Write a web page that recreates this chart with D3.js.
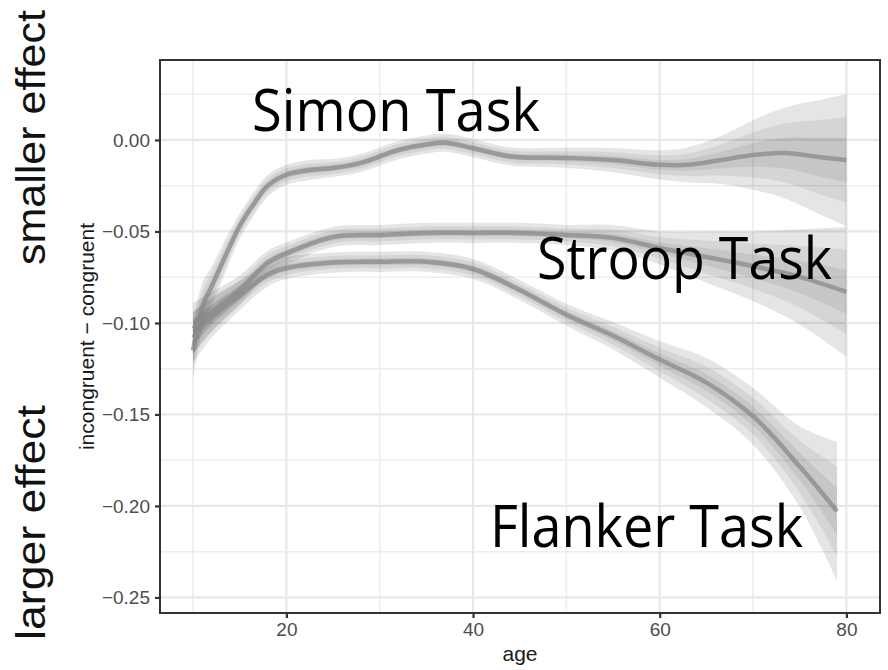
<!DOCTYPE html>
<html>
<head>
<meta charset="utf-8">
<script src="https://cdn.jsdelivr.net/npm/d3@7/dist/d3.min.js"></script>
<style>
  html, body { margin: 0; padding: 0; background: #fff; }
  svg { display: block; }
</style>
</head>
<body>
<svg id="chart" width="888" height="670"></svg>
<script>
// Smoothed task effects (incongruent − congruent) by age, with 95% half-widths
const simonAges = [10, 11, 12, 13.5, 15, 16.5, 18, 20, 22.5, 25, 28, 32, 35, 37, 40, 44, 50, 55, 60, 63, 66.5, 70, 73.5, 77, 80];
const simonMean = [-0.115, -0.091, -0.080, -0.063, -0.047, -0.035, -0.025, -0.019, -0.0164, -0.0153, -0.0125, -0.0055, -0.0025, -0.0015, -0.0045, -0.009, -0.0098, -0.011, -0.0136, -0.0136, -0.011, -0.0082, -0.0071, -0.0093, -0.011];
const simonCI   = [0.016, 0.013, 0.011, 0.009, 0.007, 0.0065, 0.006, 0.0055, 0.0055, 0.005, 0.005, 0.005, 0.005, 0.005, 0.005, 0.005, 0.0055, 0.0066, 0.008, 0.0095, 0.013, 0.019, 0.025, 0.031, 0.036];

const stroopAges = [10, 12, 15, 18, 20, 25, 30, 35, 40, 45, 50, 55, 60, 65, 70, 75, 80];
const stroopMean = [-0.103, -0.094, -0.082, -0.067, -0.062, -0.053, -0.0519, -0.0508, -0.0508, -0.0508, -0.0519, -0.0535, -0.059, -0.064, -0.069, -0.0748, -0.083];
const stroopCI   = [0.014, 0.011, 0.008, 0.0065, 0.006, 0.0055, 0.0055, 0.0055, 0.0055, 0.0055, 0.0055, 0.007, 0.009, 0.014, 0.019, 0.026, 0.0355];

const flankerAges = [10, 12, 15, 18, 20, 25, 30, 35, 40, 45, 50, 55, 60, 65, 70, 75, 79];
const flankerMean = [-0.108, -0.097, -0.085, -0.0737, -0.070, -0.067, -0.0666, -0.0666, -0.0705, -0.082, -0.0955, -0.107, -0.120, -0.1326, -0.151, -0.1785, -0.203];
const flankerCI   = [0.014, 0.011, 0.008, 0.0065, 0.006, 0.0055, 0.0055, 0.0055, 0.0055, 0.0055, 0.006, 0.0075, 0.010, 0.0135, 0.0155, 0.022, 0.038];

const xTicks = [20, 40, 60, 80];
const xMinor = [10, 30, 50, 70];
const yTicks = [0, -0.05, -0.10, -0.15, -0.20, -0.25];
const yMinor = [0.025, -0.025, -0.075, -0.125, -0.175, -0.225];

const taskLabels = ["Simon Task", "Stroop Task", "Flanker Task"];
const sideLabels = ["smaller effect", "larger effect"];

// Nested interval bands as fractions of the 95% half-width (50%, 80%, 95%)
const bandLevels = [1.0, 0.65, 0.34];
const bandAlpha = [0.10, 0.065, 0.065];

const svg = d3.select("#chart");
const panel = { left: 160, right: 880, top: 60, bottom: 613 };

const x = d3.scaleLinear().domain([6.46, 83.6]).range([panel.left, panel.right]);
const y = d3.scaleLinear().domain([-0.2585, 0.0437]).range([panel.bottom, panel.top]);

// Grid
const grid = svg.append("g");
grid.selectAll("line.vminor").data(xMinor).join("line")
  .attr("x1", d => x(d)).attr("x2", d => x(d))
  .attr("y1", panel.top).attr("y2", panel.bottom)
  .attr("stroke", "#ededed").attr("stroke-width", 1.6);
grid.selectAll("line.hminor").data(yMinor).join("line")
  .attr("y1", d => y(d)).attr("y2", d => y(d))
  .attr("x1", panel.left).attr("x2", panel.right)
  .attr("stroke", "#ededed").attr("stroke-width", 1.6);
grid.selectAll("line.vmajor").data(xTicks).join("line")
  .attr("x1", d => x(d)).attr("x2", d => x(d))
  .attr("y1", panel.top).attr("y2", panel.bottom)
  .attr("stroke", "#e8e8e8").attr("stroke-width", 2.2);
grid.selectAll("line.hmajor").data(yTicks).join("line")
  .attr("y1", d => y(d)).attr("y2", d => y(d))
  .attr("x1", panel.left).attr("x2", panel.right)
  .attr("stroke", "#e8e8e8").attr("stroke-width", 2.2);

// Series
const series = [
  { ages: simonAges, mean: simonMean, ci: simonCI },
  { ages: stroopAges, mean: stroopMean, ci: stroopCI },
  { ages: flankerAges, mean: flankerMean, ci: flankerCI }
];

const curve = d3.curveCatmullRom.alpha(0.5);
const plot = svg.append("g");

bandLevels.forEach((k, li) => {
  series.forEach(s => {
    const pts = s.ages.map((a, i) => ({ a, m: s.mean[i], c: s.ci[i] }));
    const area = d3.area()
      .x(d => x(d.a))
      .y0(d => y(d.m - k * d.c))
      .y1(d => y(d.m + k * d.c))
      .curve(curve);
    plot.append("path")
      .attr("d", area(pts))
      .attr("fill", "#000")
      .attr("fill-opacity", bandAlpha[li]);
  });
});

series.forEach(s => {
  const pts = s.ages.map((a, i) => ({ a, m: s.mean[i] }));
  const line = d3.line().x(d => x(d.a)).y(d => y(d.m)).curve(curve);
  plot.append("path")
    .attr("d", line(pts))
    .attr("fill", "none")
    .attr("stroke", "#8c8c8c")
    .attr("stroke-opacity", 0.78)
    .attr("stroke-width", 4.5)
    .attr("stroke-linecap", "butt");
});

// Panel border
svg.append("rect")
  .attr("x", panel.left).attr("y", panel.top)
  .attr("width", panel.right - panel.left).attr("height", panel.bottom - panel.top)
  .attr("fill", "none").attr("stroke", "#333").attr("stroke-width", 2);

// Axes
const xAxis = svg.append("g")
  .attr("transform", `translate(0,${panel.bottom})`)
  .call(d3.axisBottom(x).tickValues(xTicks).tickSize(5).tickPadding(5).tickFormat(d3.format("d")));
const yAxis = svg.append("g")
  .attr("transform", `translate(${panel.left},0)`)
  .call(d3.axisLeft(y).tickValues(yTicks).tickSize(5).tickPadding(5).tickFormat(d => d3.format(".2f")(d).replace("-", "\u2212")));

[xAxis, yAxis].forEach(g => {
  g.select(".domain").remove();
  g.selectAll(".tick line").attr("stroke", "#333").attr("stroke-width", 2.2);
  g.selectAll(".tick text")
    .attr("fill", "#4d4d4d")
    .style("font-family", "'Liberation Sans', Arial, sans-serif")
    .style("font-size", "19px");
});

// Axis titles
svg.append("text")
  .attr("x", (panel.left + panel.right) / 2).attr("y", 661)
  .attr("text-anchor", "middle")
  .style("font-family", "'Liberation Sans', Arial, sans-serif")
  .style("font-size", "21px")
  .attr("fill", "#1a1a1a")
  .text("age");

svg.append("text")
  .attr("transform", `translate(94,${(panel.top + panel.bottom) / 2}) rotate(-90)`)
  .attr("text-anchor", "middle")
  .style("font-family", "'Liberation Sans', Arial, sans-serif")
  .style("font-size", "21px")
  .attr("fill", "#1a1a1a")
  .text("incongruent \u2212 congruent");

// Task labels
const taskPos = [
  { x: 252, y: 131, len: 288 },
  { x: 537, y: 279, len: 295 },
  { x: 490, y: 547, len: 313 }
];
svg.selectAll("text.task").data(taskLabels).join("text")
  .attr("class", "task")
  .attr("x", (d, i) => taskPos[i].x)
  .attr("y", (d, i) => taskPos[i].y)
  .attr("textLength", (d, i) => taskPos[i].len)
  .attr("lengthAdjust", "spacingAndGlyphs")
  .style("font-family", "'Open Sans', 'Noto Sans', sans-serif")
  .style("font-size", "58px")
  .attr("fill", "#000")
  .text(d => d);

// Side annotations
const sidePos = [
  { y0: 265, len: 255 },
  { y0: 640, len: 235 }
];
svg.selectAll("text.side").data(sideLabels).join("text")
  .attr("class", "side")
  .attr("transform", (d, i) => `translate(45,${sidePos[i].y0}) rotate(-90)`)
  .attr("textLength", (d, i) => sidePos[i].len)
  .attr("lengthAdjust", "spacingAndGlyphs")
  .style("font-family", "'Liberation Sans', Arial, sans-serif")
  .style("font-size", "40px")
  .attr("fill", "#111")
  .text(d => d);
</script>
</body>
</html>
